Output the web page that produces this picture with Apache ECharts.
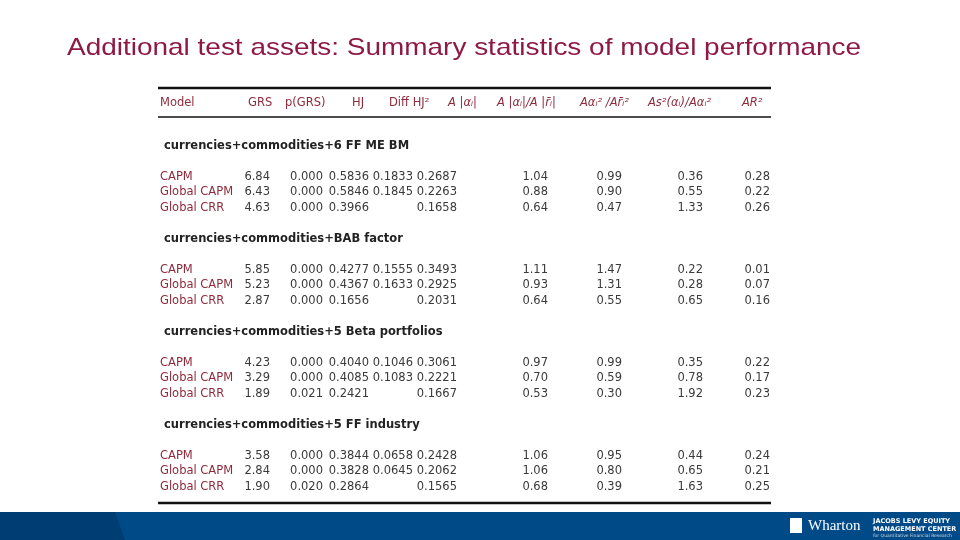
<!DOCTYPE html>
<html><head><meta charset="utf-8">
<script src="https://cdn.jsdelivr.net/npm/echarts@6/dist/echarts.min.js"></script>
<style>html,body{margin:0;padding:0;background:#fff}#c{width:960px;height:540px}</style>
</head><body><div id="c"></div>
<script>
var headers = ['Model', 'GRS', 'p(GRS)', 'HJ', 'Diff HJ²', 'A |αᵢ|', 'A |αᵢ|/A |r̄ᵢ|', 'Aαᵢ² /Ar̄ᵢ²', 'As²(αᵢ)/Aαᵢ²', 'AR²'];
var groups = ['currencies+commodities+6 FF ME BM', 'currencies+commodities+BAB factor',
  'currencies+commodities+5 Beta portfolios', 'currencies+commodities+5 FF industry'];
var models = ['CAPM', 'Global CAPM', 'Global CRR'];
var values = [
  [['6.84','0.000','0.5836','0.1833','0.2687','1.04','0.99','0.36','0.28'],
   ['6.43','0.000','0.5846','0.1845','0.2263','0.88','0.90','0.55','0.22'],
   ['4.63','0.000','0.3966','','0.1658','0.64','0.47','1.33','0.26']],
  [['5.85','0.000','0.4277','0.1555','0.3493','1.11','1.47','0.22','0.01'],
   ['5.23','0.000','0.4367','0.1633','0.2925','0.93','1.31','0.28','0.07'],
   ['2.87','0.000','0.1656','','0.2031','0.64','0.55','0.65','0.16']],
  [['4.23','0.000','0.4040','0.1046','0.3061','0.97','0.99','0.35','0.22'],
   ['3.29','0.000','0.4085','0.1083','0.2221','0.70','0.59','0.78','0.17'],
   ['1.89','0.021','0.2421','','0.1667','0.53','0.30','1.92','0.23']],
  [['3.58','0.000','0.3844','0.0658','0.2428','1.06','0.95','0.44','0.24'],
   ['2.84','0.000','0.3828','0.0645','0.2062','1.06','0.80','0.65','0.21'],
   ['1.90','0.020','0.2864','','0.1565','0.68','0.39','1.63','0.25']]
];

var red = '#8e2a3c', ink = '#3a3a3a', font = '"DejaVu Sans", sans-serif';
var headX = [160, 248, 285, 352, 389, 448, 497, 580, 648, 742];
var colRight = [270, 323, 369, 413, 457, 548, 622, 703, 770];
var groupY = [146, 239, 332, 425];
var rowOffset = [31, 46, 62];

var g = [];
function txt(x, y, s, opt, extra) {
  g.push(Object.assign({type: 'text', x: x, y: y, style: Object.assign({text: s, fontFamily: font, fontSize: 11.5,
    fill: ink, textVerticalAlign: 'middle'}, opt || {})}, extra || {}));
}
function line(y, w) {
  g.push({type: 'rect', shape: {x: 158, y: y - w / 2, width: 613, height: w}, style: {fill: '#111'}});
}

txt(67, 48, 'Additional test assets: Summary statistics of model performance',
  {fontFamily: '"Liberation Sans", Arial, sans-serif', fontSize: 24, fill: '#8e1a44'}, {scaleX: 1.165});
line(88, 2.5); line(117, 1.5); line(503, 2.5);
headers.forEach(function (h, i) {
  txt(headX[i], 103, h, {fill: red, fontStyle: i >= 5 ? 'italic' : 'normal'});
});
groups.forEach(function (name, gi) {
  txt(164, groupY[gi], name, {fontWeight: 'bold', fill: '#222'});
  models.forEach(function (m, ri) {
    var y = groupY[gi] + rowOffset[ri];
    txt(160, y, m, {fill: red});
    values[gi][ri].forEach(function (v, ci) {
      if (v) txt(colRight[ci], y, v, {textAlign: 'right'});
    });
  });
});

// footer bar
g.push({type: 'rect', shape: {x: 0, y: 512, width: 960, height: 28}, style: {fill: '#004a87'}});
g.push({type: 'polygon', shape: {points: [[0, 512], [115, 512], [125, 540], [0, 540]]}, style: {fill: '#003d73'}});
txt(808, 526, 'Wharton', {fill: '#fff', fontFamily: '"Liberation Serif", serif', fontSize: 15});
txt(873, 521, 'JACOBS LEVY EQUITY', {fill: '#fff', fontSize: 6.5, fontWeight: 'bold'});
txt(873, 529, 'MANAGEMENT CENTER', {fill: '#fff', fontSize: 6.5, fontWeight: 'bold'});
txt(873, 536, 'for Quantitative Financial Research', {fill: '#cfd8e8', fontSize: 4.5});
g.push({type: 'rect', shape: {x: 790, y: 518, width: 12, height: 15}, style: {fill: '#fff'}});

var chart = echarts.init(document.getElementById('c'));
chart.setOption({animation: false, graphic: g});
</script></body></html>
